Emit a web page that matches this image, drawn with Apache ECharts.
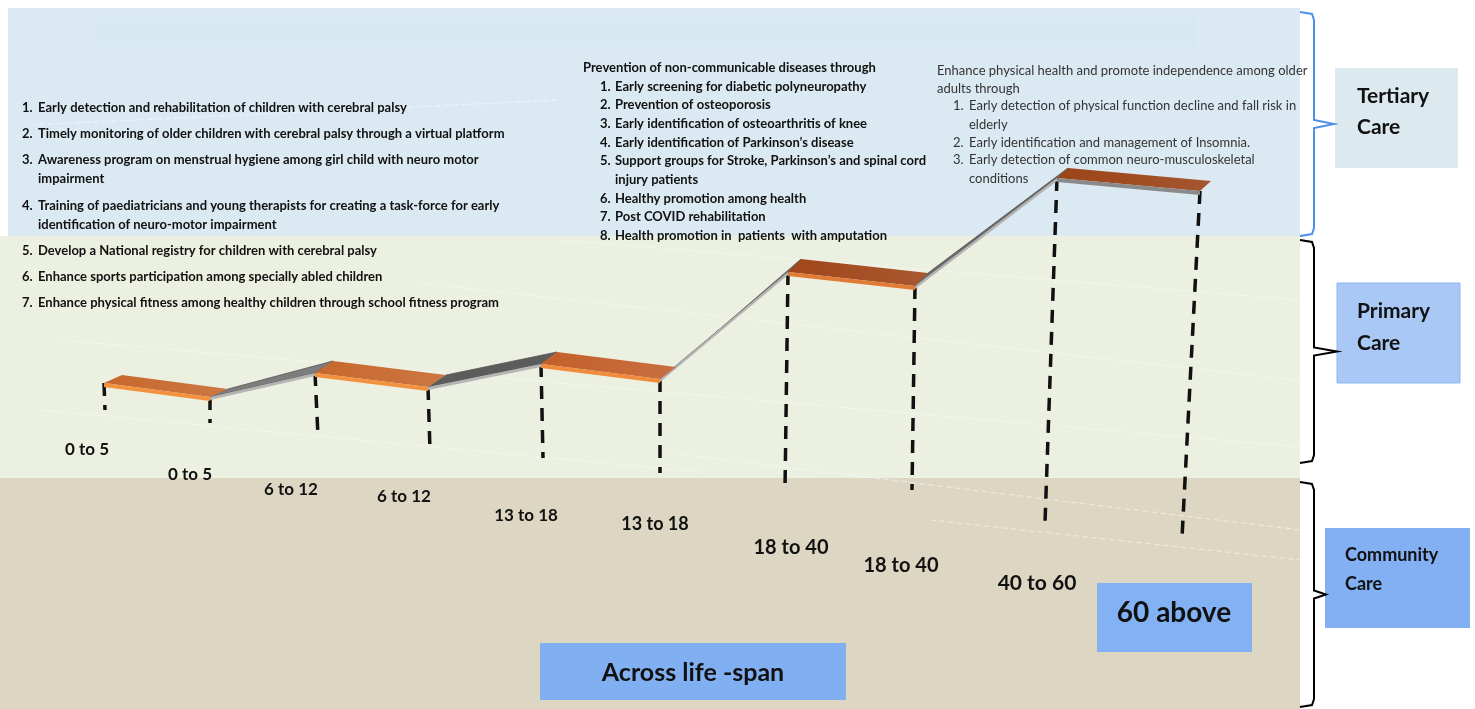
<!DOCTYPE html>
<html><head><meta charset="utf-8">
<script src="https://cdn.jsdelivr.net/npm/echarts@6/dist/echarts.min.js"></script>
<style>html,body{margin:0;padding:0;background:#fff}#c{width:1475px;height:709px}</style>
</head><body><div id="c"></div>
<script>
// ---- data ----
const ageGroups = ['0 to 5', '6 to 12', '13 to 18', '18 to 40', '40 to 60 / 60 above'];
// step plate front edge: [x left, level left, x right, level right]
const stepFrontLeft  = [[104, 383], [315, 373], [541, 364], [788, 272], [1057, 178]];
const stepFrontRight = [[210, 397], [428, 387], [660, 379], [915, 286], [1200, 191]];
const stepDepth = [[18, -8], [18, -12], [16, -12], [13, -13], [11, -10]];
// dashed drop lines: foot of each line (one per plate corner)
const dashFoot = [[105, 410], [210, 423], [318, 436], [430, 450], [543, 458], [660, 473], [785, 490], [912, 490], [1045, 523], [1182, 538]];
const ageTickLabels = ['0 to 5', '0 to 5', '6 to 12', '6 to 12', '13 to 18', '13 to 18', '18 to 40', '18 to 40', '40 to 60'];
const ageTickPos = [[87, 450], [190, 475], [291, 490], [404, 497], [526, 516], [655, 524], [791, 548], [901, 566], [1037, 583]];

const childList = [
  ['1.', 'Early detection and rehabilitation of children with cerebral palsy'],
  ['2.', 'Timely monitoring of older children with cerebral palsy through a virtual platform'],
  ['3.', 'Awareness program on menstrual hygiene among girl child with neuro motor', 'impairment'],
  ['4.', 'Training of paediatricians and young therapists for creating a task-force for early', 'identification of neuro-motor impairment'],
  ['5.', 'Develop a National registry for children with cerebral palsy'],
  ['6.', 'Enhance sports participation among specially abled children'],
  ['7.', 'Enhance physical fitness among healthy children through school fitness program']
];
const adultHeader = 'Prevention of non-communicable diseases through';
const adultList = [
  ['1.', 'Early screening for diabetic polyneuropathy'],
  ['2.', 'Prevention of osteoporosis'],
  ['3.', 'Early identification of osteoarthritis of knee'],
  ['4.', 'Early identification of Parkinson\u2019s disease'],
  ['5.', 'Support groups for Stroke, Parkinson\u2019s and spinal cord', 'injury patients'],
  ['6.', 'Healthy promotion among health'],
  ['7.', 'Post COVID rehabilitation'],
  ['8.', 'Health promotion in  patients  with amputation']
];
const elderHeader = ['Enhance physical health and promote independence among older', 'adults through'];
const elderList = [
  ['1.', 'Early detection of physical function decline and fall risk in', 'elderly'],
  ['2.', 'Early identification and management of Insomnia.'],
  ['3.', 'Early detection of common neuro-musculoskeletal', 'conditions']
];
const careLevels = [['Tertiary', 'Care'], ['Primary', 'Care'], ['Community', 'Care']];
const lifeSpanLabel = 'Across life -span';
const elderLabel = '60 above';

// ---- build ----
const FONT = 'Lato, "Open Sans", sans-serif';
const g = [];
function rect(x, y, w, h, fill, stroke) {
  g.push({ type: 'rect', shape: { x, y, width: w, height: h }, style: { fill, stroke: stroke || null, lineWidth: stroke ? 1 : 0 }, z: 0 });
}
function txt(s, x, y, size, weight, color, align) {
  g.push({ type: 'text', x, y, style: { text: s, font: weight + ' ' + size + 'px ' + FONT, fill: color, align: align || 'left', verticalAlign: 'middle' }, z: 5 });
}
// bands
rect(8, 8, 1292, 228, '#dbeaf2');
rect(95, 18, 1100, 28, '#d8e8f0');
rect(0, 236, 1300, 242, '#ebf0e0');
rect(0, 478, 1300, 231, '#ddd6c3');
// faint floor lines
const floorLines = [[[40, 410], [700, 472]], [[60, 340], [1475, 462]], [[420, 283], [1475, 400]], [[560, 240], [1300, 300]], [[660, 452], [1300, 530]], [[930, 520], [1300, 560]], [[30, 125], [560, 100]]];
floorLines.forEach(l => g.push({ type: 'line', shape: { x1: l[0][0], y1: l[0][1], x2: l[1][0], y2: l[1][1] }, style: { stroke: 'rgba(255,255,255,0.45)', lineWidth: 1.2, lineDash: [6, 3] }, z: 1 }));

// left list
const childY = [108, 134, 160, 206, 251, 277, 303];
childList.forEach((it, i) => {
  txt(it[0], 22, childY[i], 13, 'bold', '#111');
  txt(it[1], 38, childY[i], 13, 'bold', '#111');
  if (it[2]) txt(it[2], 38, childY[i] + 19, 13, 'bold', '#111');
});
// middle list
txt(adultHeader, 583, 68, 13, 'bold', '#111');
const adultY = [87, 105, 124, 143, 161, 199, 217, 236];
adultList.forEach((it, i) => {
  txt(it[0], 600, adultY[i], 13, 'bold', '#111');
  txt(it[1], 615, adultY[i], 13, 'bold', '#111');
  if (it[2]) txt(it[2], 615, adultY[i] + 19, 13, 'bold', '#111');
});
// right list
txt(elderHeader[0], 937, 71, 13, 'normal', '#333');
txt(elderHeader[1], 937, 89, 13, 'normal', '#333');
const elderY = [106, 143, 160];
elderList.forEach((it, i) => {
  txt(it[0], 953, elderY[i], 13, 'normal', '#333');
  txt(it[1], 969, elderY[i], 13, 'normal', '#333');
  if (it[2]) txt(it[2], 969, elderY[i] + 19, 13, 'normal', '#333');
});

// brackets
function bracket(y1, y2, tipX, color) {
  const m = (y1 + y2) / 2;
  g.push({ type: 'polyline', shape: { points: [[1300, y1], [1312, y1 + 2], [1314, y1 + 8], [1314, m - 4], [tipX, m], [1314, m + 4], [1314, y2 - 8], [1312, y2 - 2], [1300, y2]] }, style: { stroke: color, lineWidth: 2, fill: null }, z: 3 });
}
bracket(12, 236, 1334, '#4f8fe8');
bracket(240, 463, 1337, '#000');
bracket(482, 707, 1326, '#000');
// care boxes
rect(1335, 68, 123, 100, '#dce9ee');
rect(1337, 283, 123, 100, '#a9c8f5', '#8fb6f0');
rect(1325, 528, 145, 100, '#83b0f2');
txt(careLevels[0][0], 1357, 96, 21, 'bold', '#111');
txt(careLevels[0][1], 1357, 127, 21, 'bold', '#111');
txt(careLevels[1][0], 1357, 311, 21, 'bold', '#111');
txt(careLevels[1][1], 1357, 343, 21, 'bold', '#111');
txt(careLevels[2][0], 1345, 555, 18, 'bold', '#111');
txt(careLevels[2][1], 1345, 584, 18, 'bold', '#111');
// bottom boxes
rect(1097, 583, 155, 69, '#82b1f4');
txt(elderLabel, 1174, 613, 28, 'bold', '#111', 'center');
rect(540, 643, 306, 57, '#80b0f2');
txt(lifeSpanLabel, 693, 673, 25, 'bold', '#111', 'center');

// series data
const plateData = ageGroups.map((name, i) => ({ name, value: [stepFrontLeft[i][0], stepFrontLeft[i][1], stepFrontRight[i][0], stepFrontRight[i][1], stepDepth[i][0], stepDepth[i][1]] }));
const rampData = [];
for (let i = 0; i < ageGroups.length - 1; i++) {
  rampData.push({ value: [stepFrontRight[i][0], stepFrontRight[i][1], stepDepth[i][0], stepDepth[i][1], stepFrontLeft[i + 1][0], stepFrontLeft[i + 1][1], stepDepth[i + 1][0], stepDepth[i + 1][1]] });
}
const dashData = [];
ageGroups.forEach((n, i) => {
  dashData.push({ coords: [stepFrontLeft[i], dashFoot[2 * i]] });
  dashData.push({ coords: [stepFrontRight[i], dashFoot[2 * i + 1]] });
});
const labelData = ageTickLabels.map((n, i) => ({ name: n, value: ageTickPos[i], label: { fontSize: i < 5 ? 17 : (i < 6 ? 18 : (i < 8 ? 20 : 21)) } }));

const plateTop = ['#c7682d', '#c7682d', '#c2602a', '#a0461a', '#9c4418'];
const plateFront = ['#f4913f', '#f4913f', '#f08a3c', '#e07a35', '#8a8a8a'];
const rampTop = ['#7d7d7d', '#5c5c5c', '#7a7a7a', '#6a6a6a'];

const option = {
  animation: false,
  graphic: g,
  grid: { left: 0, right: 0, top: 0, bottom: 0 },
  xAxis: { type: 'value', min: 0, max: 1475, show: false },
  yAxis: { type: 'value', min: 0, max: 709, inverse: true, show: false },
  series: [
    {
      type: 'lines', coordinateSystem: 'cartesian2d', z: 3, silent: true,
      data: dashData,
      lineStyle: { color: '#111', width: 3.5, type: [13, 9], opacity: 1 }
    },
    {
      type: 'custom', z: 4, data: rampData,
      renderItem(params, api) {
        const i = params.dataIndex;
        const ax = api.value(0), ay = api.value(1), adx = api.value(2), ady = api.value(3);
        const bx = api.value(4), by = api.value(5), bdx = api.value(6), bdy = api.value(7);
        const p1 = api.coord([ax, ay]), p2 = api.coord([ax + adx, ay + ady]);
        const p3 = api.coord([bx + bdx, by + bdy]), p4 = api.coord([bx, by]);
        return { type: 'group', children: [
          { type: 'polygon', shape: { points: [p1, p2, p3, p4] }, style: { fill: rampTop[i], stroke: '#555', lineWidth: 0.8 } },
          { type: 'polygon', shape: { points: [p1, p4, [p4[0], p4[1] + 3], [p1[0], p1[1] + 3]] }, style: { fill: '#b4b4b4' } }
        ] };
      }
    },
    {
      type: 'custom', z: 5, data: plateData,
      renderItem(params, api) {
        const i = params.dataIndex;
        const lx = api.value(0), ly = api.value(1), rx = api.value(2), ry = api.value(3), dx = api.value(4), dy = api.value(5);
        const fl = api.coord([lx, ly]), fr = api.coord([rx, ry]);
        const bl = api.coord([lx + dx, ly + dy]), br = api.coord([rx + dx, ry + dy]);
        return { type: 'group', children: [
          { type: 'polygon', shape: { points: [fl, bl, br, fr] }, style: { fill: new echarts.graphic.LinearGradient(0, 0, 1, 0, [{ offset: 0, color: plateTop[i] }, { offset: 1, color: echarts.color.lift(plateTop[i], 0.1) }]) } },
          { type: 'polygon', shape: { points: [fl, fr, [fr[0], fr[1] + 4], [fl[0], fl[1] + 4]] }, style: { fill: plateFront[i] } }
        ] };
      }
    },
    {
      type: 'scatter', z: 6, symbolSize: 0, data: labelData, silent: true,
      itemStyle: { opacity: 1 },
      label: { show: true, position: 'inside', formatter: p => p.name, fontFamily: FONT, fontWeight: 'bold', color: '#111', opacity: 1, textBorderWidth: 0, textBorderColor: 'transparent' }
    }
  ]
};
echarts.init(document.getElementById('c'), null, { renderer: 'canvas' }).setOption(option);
</script></body></html>
